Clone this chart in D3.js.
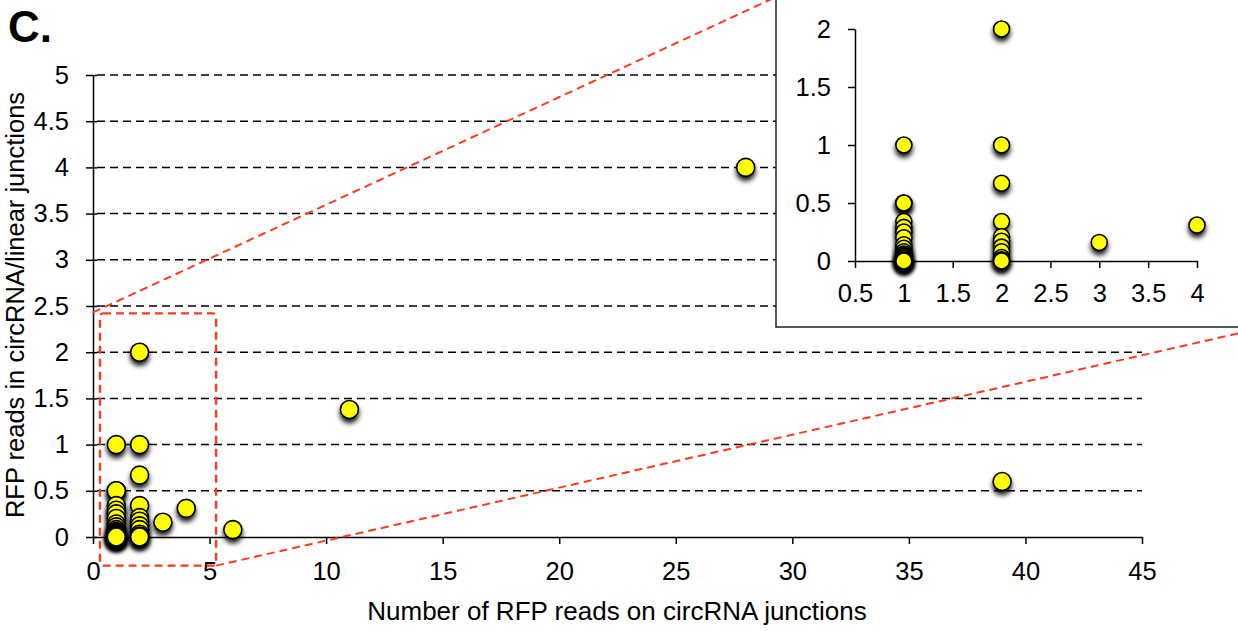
<!DOCTYPE html>
<html>
<head>
<meta charset="utf-8">
<script src="https://cdn.jsdelivr.net/npm/d3@7"></script>
<style>
  body { margin: 0; background: #fff; }
  svg { display: block; font-family: "Liberation Sans", Arial, Helvetica, sans-serif; }
</style>
</head>
<body>
<svg class="Chart"></svg>
<script>
// reads on circRNA junctions vs ratio circRNA/linear
let reads = [1, 1, 1, 1, 1, 1, 1, 1, 1, 1, 1, 1, 1, 1, 1, 1, 1, 1, 1, 1,
             2, 2, 2, 2, 2, 2, 2, 2, 2, 2, 2,
             3, 4, 6, 11, 28, 39];
let ratio = [1, 0.5, 0.5, 0.34, 0.29, 0.25, 0.2, 0.14, 0.11, 0.08, 0.06, 0.05, 0.04, 0.03, 0.02, 0.01, 0, 0, 0, 0,
             2, 1, 0.67, 0.34, 0.21, 0.17, 0.12, 0.08, 0.03, 0.01, 0,
             0.16, 0.31, 0.08, 1.38, 4, 0.6];

let xTicks = [0, 5, 10, 15, 20, 25, 30, 35, 40, 45];
let yTicks = [0, 0.5, 1, 1.5, 2, 2.5, 3, 3.5, 4, 4.5, 5];
let insetXTicks = [0.5, 1, 1.5, 2, 2.5, 3, 3.5, 4];
let insetYTicks = [0, 0.5, 1, 1.5, 2];

// zoomed region drawn as the red box, in data units
let zoomBox = {x0: 0.3, x1: 5.28, y0: -0.31, y1: 2.42};

function styleAxis(g){
    g.select(".domain").attr("stroke", "#000").attr("stroke-width", 1.5);
    g.selectAll(".tick line").attr("stroke", "#000").attr("stroke-width", 1.5);
    g.selectAll("text")
        .attr("font-size", 25.5)
        .attr("font-family", "Liberation Sans, Arial, sans-serif")
        .attr("fill", "#000");
}

function drawChart(){
    let width = 1238, height = 631;
    let svg = d3.select(".Chart")
        .attr("width", width)
        .attr("height", height);

    let f = svg.append("defs").append("filter").attr("id", "shadow")
        .attr("x", "-60%").attr("y", "-60%").attr("width", "220%").attr("height", "240%");
    f.append("feDropShadow")
        .attr("dx", 0).attr("dy", 4)
        .attr("stdDeviation", 2.8)
        .attr("flood-color", "#000")
        .attr("flood-opacity", 0.9);

    let x = d3.scaleLinear().domain([0, 45]).range([93, 1142]);
    let y = d3.scaleLinear().domain([0, 5]).range([537, 75]);
    let pts = d3.range(reads.length);

    // dashed gridlines
    svg.append("g")
        .selectAll("line")
        .data(yTicks.slice(1))
        .join("line")
        .attr("x1", x(0) + 4).attr("x2", x(45))
        .attr("y1", d => y(d)).attr("y2", d => y(d))
        .attr("stroke", "#000")
        .attr("stroke-width", 1.5)
        .attr("stroke-dasharray", "8,5");

    // axes
    let gx = svg.append("g")
        .attr("transform", `translate(0,${y(0)})`)
        .call(d3.axisBottom(x).tickValues(xTicks).tickSize(7).tickSizeOuter(0).tickPadding(18));
    let gy = svg.append("g")
        .attr("transform", `translate(${x(0)},0)`)
        .call(d3.axisLeft(y).tickValues(yTicks).tickFormat(d3.format("")).tickSize(7).tickSizeOuter(0).tickPadding(17));
    styleAxis(gx);
    styleAxis(gy);
    gy.selectAll(".tick line").attr("x2", -7).attr("x1", 4);

    // main points
    svg.append("g")
        .selectAll("circle")
        .data(pts)
        .join("circle")
        .attr("cx", i => x(reads[i]))
        .attr("cy", i => y(ratio[i]))
        .attr("r", 9)
        .attr("fill", "#ffff00")
        .attr("stroke", "#000")
        .attr("stroke-width", 1.6)
        .attr("filter", "url(#shadow)");

    // inset panel
    let inset = svg.append("g");
    inset.append("rect")
        .attr("x", 776).attr("y", -3)
        .attr("width", 470).attr("height", 330)
        .attr("fill", "#fff")
        .attr("stroke", "#222")
        .attr("stroke-width", 1.5);

    let ix = d3.scaleLinear().domain([0.5, 4]).range([855, 1197]);
    let iy = d3.scaleLinear().domain([0, 2]).range([261, 29]);

    let igx = inset.append("g")
        .attr("transform", `translate(0,${iy(0)})`)
        .call(d3.axisBottom(ix).tickValues(insetXTicks).tickFormat(d3.format("")).tickSize(7).tickSizeOuter(0).tickPadding(16));
    let igy = inset.append("g")
        .attr("transform", `translate(${ix(0.5)},0)`)
        .call(d3.axisLeft(iy).tickValues(insetYTicks).tickFormat(d3.format("")).tickSize(7).tickSizeOuter(0).tickPadding(17));
    styleAxis(igx);
    styleAxis(igy);

    inset.append("g")
        .selectAll("circle")
        .data(pts.filter(i => reads[i] <= 4 && ratio[i] <= 2))
        .join("circle")
        .attr("cx", i => ix(reads[i]))
        .attr("cy", i => iy(ratio[i]))
        .attr("r", 8)
        .attr("fill", "#ffff00")
        .attr("stroke", "#000")
        .attr("stroke-width", 1.6)
        .attr("filter", "url(#shadow)");

    // red zoom box + connectors
    let red = "#ff3a1c";
    svg.append("rect")
        .attr("x", x(zoomBox.x0)).attr("y", y(zoomBox.y1))
        .attr("width", x(zoomBox.x1) - x(zoomBox.x0))
        .attr("height", y(zoomBox.y0) - y(zoomBox.y1))
        .attr("rx", 3)
        .attr("fill", "none")
        .attr("stroke", red)
        .attr("stroke-width", 2.4)
        .attr("stroke-dasharray", "8,5");
    svg.append("line")
        .attr("x1", x(0)).attr("y1", y(zoomBox.y1) - 1)
        .attr("x2", 776).attr("y2", -3)
        .attr("stroke", red).attr("stroke-width", 2).attr("stroke-dasharray", "8,5");
    svg.append("line")
        .attr("x1", x(zoomBox.x1)).attr("y1", y(zoomBox.y0))
        .attr("x2", 1240).attr("y2", 333)
        .attr("stroke", red).attr("stroke-width", 2).attr("stroke-dasharray", "8,5");

    // titles
    svg.append("text")
        .attr("x", 8).attr("y", 42)
        .attr("font-size", 44).attr("font-weight", "bold")
        .text("C.");
    svg.append("text")
        .attr("x", 617).attr("y", 620)
        .attr("text-anchor", "middle")
        .attr("font-size", 26)
        .text("Number of RFP reads on circRNA junctions");
    svg.append("text")
        .attr("transform", "translate(24,305) rotate(-90)")
        .attr("text-anchor", "middle")
        .attr("font-size", 25.5)
        .text("RFP reads in circRNA/linear junctions");
}

drawChart();
</script>
</body>
</html>
